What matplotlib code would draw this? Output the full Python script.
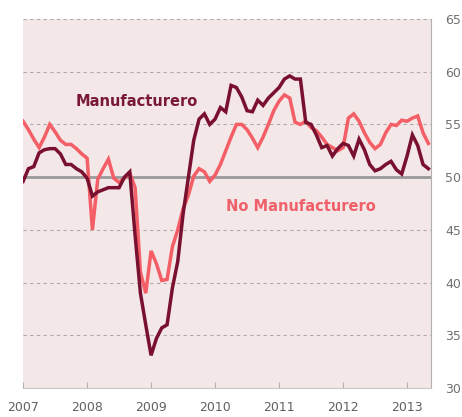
import numpy as np
import matplotlib
matplotlib.use("Agg")
import matplotlib.pyplot as plt

# Indicador IMEF mensual, enero 2007 - mayo 2013
manufacturero = [
    49.6, 50.8, 51.0, 52.3, 52.6, 52.7, 52.7, 52.2, 51.2, 51.2, 50.8, 50.5,
    49.9, 48.2, 48.6, 48.8, 49.0, 49.0, 49.0, 50.0, 50.5, 44.5, 39.0, 36.0,
    33.1, 34.7, 35.7, 36.0, 39.5, 42.0, 46.5, 50.0, 53.5, 55.5, 56.0, 55.0,
    55.5, 56.6, 56.2, 58.7, 58.5, 57.6, 56.3, 56.2, 57.3, 56.8, 57.5, 58.0,
    58.5, 59.3, 59.6, 59.3, 59.3, 55.2, 55.0, 54.0, 52.8, 53.0, 52.0, 52.7,
    53.2, 53.0, 52.0, 53.6, 52.6, 51.2, 50.6, 50.8, 51.2, 51.5, 50.7, 50.3,
    52.0, 54.0, 53.0, 51.2, 50.8,
]
no_manufacturero = [
    55.3, 54.5, 53.6, 52.8, 53.8, 55.0, 54.3, 53.5, 53.1, 53.1, 52.7, 52.2,
    51.8, 45.0, 49.8, 50.8, 51.7, 49.9, 49.5, 49.9, 50.4, 49.0, 41.0, 39.0,
    43.0, 41.8, 40.2, 40.3, 43.4, 45.0, 47.0, 48.3, 50.1, 50.8, 50.5, 49.6,
    50.2, 51.2, 52.5, 53.8, 55.0, 55.0, 54.5, 53.7, 52.8, 53.8, 55.0, 56.3,
    57.2, 57.8, 57.5, 55.2, 55.0, 55.3, 54.7, 54.4, 53.8, 53.1, 52.8, 52.5,
    52.8, 55.6, 56.0, 55.3, 54.2, 53.3, 52.7, 53.1, 54.2, 55.0, 54.9, 55.4,
    55.3, 55.6, 55.8, 54.2, 53.2,
]
anios = [2007, 2008, 2009, 2010, 2011, 2012, 2013]
niveles = [30, 35, 40, 45, 50, 55, 60, 65]

fechas = 2007 + np.arange(len(manufacturero)) / 12.0

fig = plt.figure(figsize=(4.62, 4.17), dpi=100)
ax = fig.add_axes([0.05, 0.0695, 0.883, 0.885])
ax.set_facecolor("#f3e7e7")

# lineas de referencia
for n in niveles:
    if n == 50:
        ax.axhline(n, color="#9a9a9a", lw=2.0, zorder=1)
    elif n > 30:
        ax.axhline(n, color="#b0a8a8", lw=0.8, ls=(0, (3, 3)), zorder=1)

ax.plot(fechas, no_manufacturero, color="#f45e66", lw=2.5, zorder=3,
        solid_joinstyle="miter")
ax.plot(fechas, manufacturero, color="#7a1030", lw=2.5, zorder=4,
        solid_joinstyle="miter")

ax.text(2008.78, 57.2, "Manufacturero", color="#7a1838", fontsize=10.5,
        fontweight="bold", ha="center", va="center")
ax.text(2011.34, 47.2, "No Manufacturero", color="#f0606a", fontsize=10.5,
        fontweight="bold", ha="center", va="center")

ax.set_xlim(2007, 2013.375)
ax.set_ylim(30, 65)
ax.set_xticks(anios)
ax.set_xticklabels([str(a) for a in anios])
ax.set_yticks(niveles)
ax.yaxis.tick_right()
ax.tick_params(axis="y", length=0, pad=10, labelsize=9, labelcolor="#707070")
ax.tick_params(axis="x", direction="in", length=4, color="#b0b0b0",
               pad=9, labelsize=9, labelcolor="#606060")

for lado in ["top", "left"]:
    ax.spines[lado].set_visible(False)
ax.spines["right"].set_color("#b0b0b0")
ax.spines["bottom"].set_color("#c8c8c8")

fig.savefig("out.png", dpi=100, facecolor="white")
